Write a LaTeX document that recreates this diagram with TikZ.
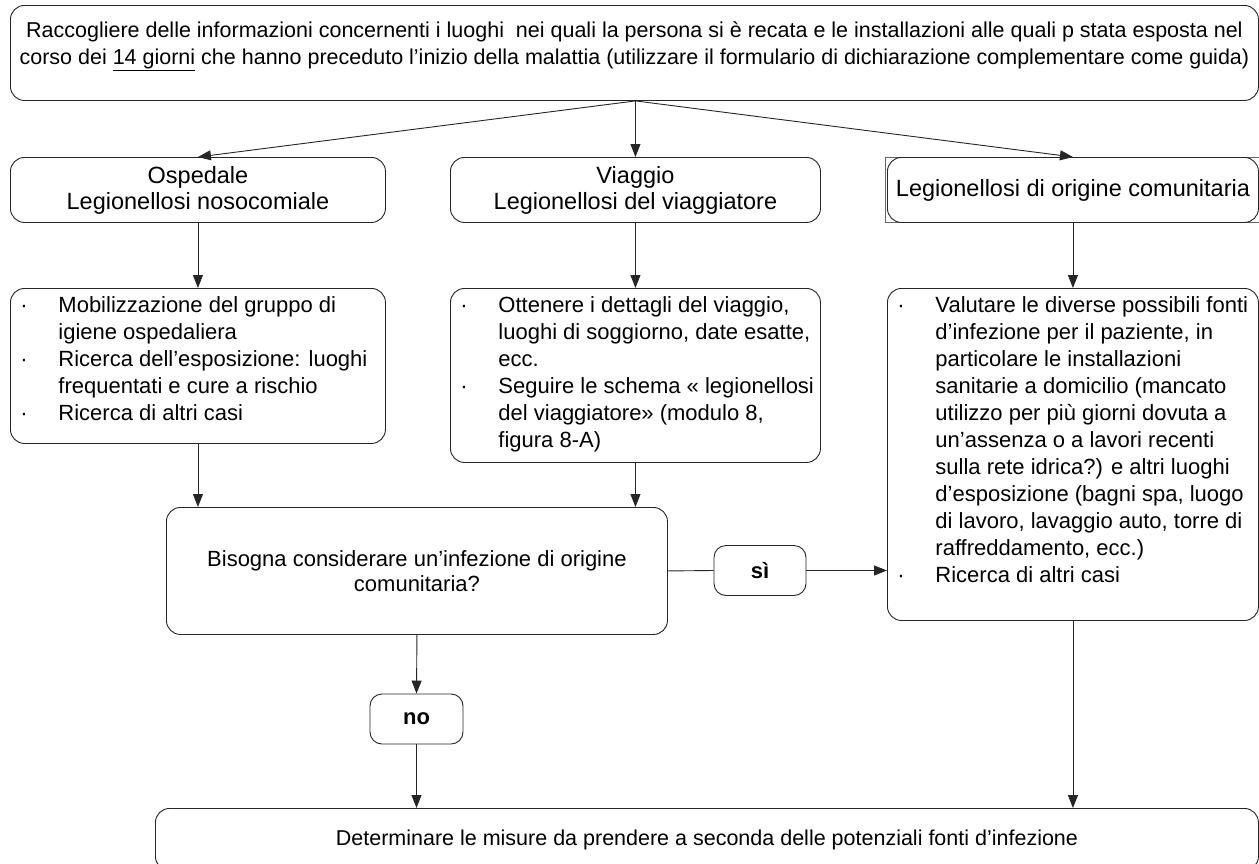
\documentclass[tikz,border=0pt]{standalone}
\usepackage{fontspec}
\setmainfont{Liberation Sans}
\usetikzlibrary{arrows.meta}

% bullet list set in a fixed-size, top-aligned panel
\newcommand{\blist}[3]{%
  \begin{minipage}[c][#2][t]{#1}%
    \vspace*{5pt}%
    \fontsize{22}{27}\selectfont\noindent
    \begin{tabular}{@{\hspace{10pt}}p{38pt}@{}l@{}}#3\end{tabular}%
  \end{minipage}}

% centred text placed a little above the middle of a fixed-size panel
\newcommand{\highblock}[4]{%
  \begin{minipage}[c][#2][t]{#1}%
    \vspace*{#3}\centering #4\par
  \end{minipage}}

\begin{document}
\begin{tikzpicture}[x=1pt,y=-1pt,
  box/.style={draw=black!85, line width=0.9pt, rounded corners=14pt,
              inner sep=0pt, align=center},
  listbox/.style={draw=black!85, line width=0.9pt, rounded corners=14pt,
              inner sep=0pt, anchor=north west},
  pill/.style={box, rounded corners=12pt},
  conn/.style={draw=black!85, line width=0.9pt},
  arr/.style={conn, -{Triangle[length=13pt,width=10pt]}},
  ftop/.style={font=\fontsize{21.5}{27}\selectfont},
  fmid/.style={font=\fontsize{22}{25}\selectfont},
  fbold/.style={font=\fontsize{22}{25}\selectfont\bfseries},
  fhead/.style={font=\fontsize{23.5}{26}\selectfont},
]
\useasboundingbox (0,0) rectangle (1259,863);
\clip (0,0) rectangle (1259,863);
\fill[white] (0,0) rectangle (1259,863);

% first step
\node[listbox, ftop] (top) at (10,5)
  {\highblock{1248pt}{95pt}{16pt}{Raccogliere delle informazioni concernenti i luoghi\ \ nei quali la persona si è recata e le installazioni alle quali p stata esposta nel\\
   corso dei \underline{14 giorni} che hanno preceduto l’inizio della malattia (utilizzare il formulario di dichiarazione complementare come guida)}};

% three categories
\node[box, fhead, minimum width=375pt, minimum height=65pt, anchor=north west] (hL) at (10,157)
  {Ospedale\\Legionellosi nosocomiale};
\node[box, fhead, minimum width=370pt, minimum height=65pt, anchor=north west] (hM) at (450,157)
  {Viaggio\\Legionellosi del viaggiatore};
\node[draw=black!60, line width=0.6pt, minimum width=374pt, minimum height=65pt,
      inner sep=0pt, anchor=north west] (hRframe) at (885,157) {};
\node[box, fhead, minimum width=371pt, minimum height=65pt, anchor=north west] (hR) at (887,157)
  {Legionellosi di origine comunitaria};

% actions for each category
\node[listbox] (bL) at (10,288) {\blist{375pt}{155pt}{%
  ·&Mobilizzazione del gruppo di\\
   &igiene ospedaliera\\
  ·&Ricerca dell’esposizione: luoghi\\
   &frequentati e cure a rischio\\
  ·&Ricerca di altri casi}};
\node[listbox] (bM) at (450,288) {\blist{370pt}{174pt}{%
  ·&Ottenere i dettagli del viaggio,\\
   &luoghi di soggiorno, date esatte,\\
   &ecc.\\
  ·&Seguire le schema « legionellosi\\
   &del viaggiatore» (modulo 8,\\
   &figura 8-A)}};
\node[listbox] (bR) at (887,288) {\blist{371pt}{332pt}{%
  ·&Valutare le diverse possibili fonti\\
   &d’infezione per il paziente, in\\
   &particolare le installazioni\\
   &sanitarie a domicilio (mancato\\
   &utilizzo per più giorni dovuta a\\
   &un’assenza o a lavori recenti\\
   &sulla rete idrica?) e altri luoghi\\
   &d’esposizione (bagni spa, luogo\\
   &di lavoro, lavaggio auto, torre di\\
   &raffreddamento, ecc.)\\
  ·&Ricerca di altri casi}};

% decision
\node[box, fmid, minimum width=501pt, minimum height=127pt,
      anchor=north west] (dec) at (166,507)
  {Bisogna considerare un’infezione di origine\\comunitaria?};
\node[pill, fbold, minimum width=92pt, minimum height=50pt] (si) at (760,570.5) {sì};
\node[pill, fbold, minimum width=93pt, minimum height=50pt] (no) at (416.5,719) {no};

% final step
\node[box, ftop, minimum width=1103pt, minimum height=62pt, anchor=north west] (bot) at (155,808)
  {Determinare le misure da prendere a seconda delle potenziali fonti d’infezione};

% connectors
\draw[arr] (hM.north |- top.south) -- (hL.north);
\draw[arr] (hM.north |- top.south) -- (hM.north);
\draw[arr] (hM.north |- top.south) -- (hR.north);
\draw[arr] (hL.south) -- (bL.north);
\draw[arr] (hM.south) -- (bM.north);
\draw[arr] (hR.south) -- (bR.north);
\draw[arr] (bL.south) -- (bL.south |- dec.north);
\draw[arr] (bM.south) -- (bM.south |- dec.north);
\draw[conn] (dec.east) -- (si.west);
\draw[arr] (si.east) -- (si.east -| bR.west);
\draw[arr] (dec.south) -- (no.north);
\draw[arr] (no.south) -- (no.south |- bot.north);
\draw[arr] (bR.south) -- (bR.south |- bot.north);
\end{tikzpicture}
\end{document}
